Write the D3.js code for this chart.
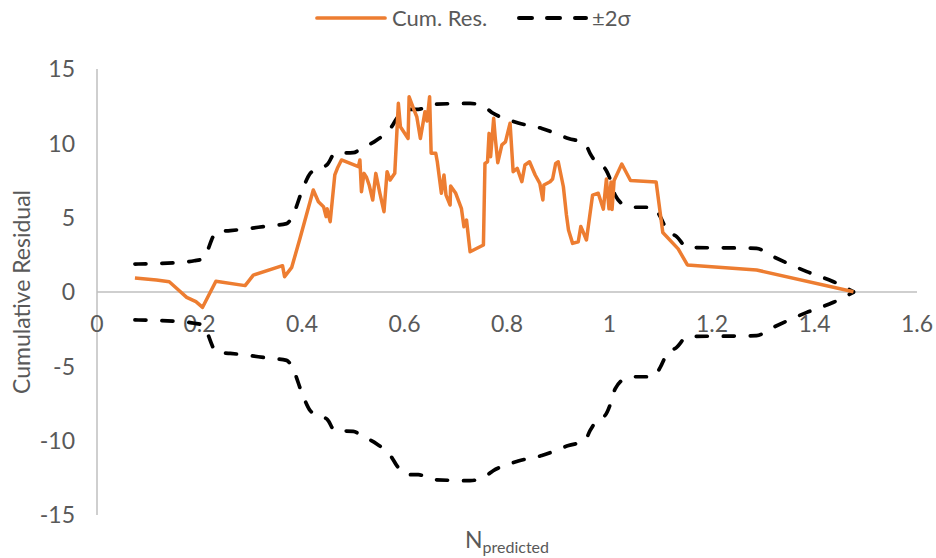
<!DOCTYPE html>
<html>
<head>
<meta charset="utf-8">
<script src="https://cdn.jsdelivr.net/npm/d3@7"></script>
<style>
  body { margin: 0; background: #fff; }
  svg text { font-family: Lato, "Open Sans", sans-serif; fill: #595959; }
</style>
</head>
<body>
<svg id="chart" width="936" height="558"></svg>
<script>
// Cumulative residual against predicted N
const cumX = [0.074,0.116,0.141,0.159,0.175,0.193,0.206,0.232,0.289,0.305,0.362,0.366,0.380,0.396,0.422,0.432,0.442,0.447,0.449,0.455,0.464,0.469,0.477,0.510,0.513,0.516,0.521,0.526,0.531,0.538,0.544,0.552,0.560,0.566,0.572,0.581,0.588,0.592,0.607,0.609,0.618,0.624,0.631,0.640,0.644,0.649,0.652,0.661,0.664,0.672,0.677,0.681,0.689,0.690,0.700,0.711,0.716,0.721,0.728,0.754,0.757,0.762,0.765,0.768,0.774,0.777,0.782,0.790,0.797,0.806,0.812,0.820,0.829,0.835,0.844,0.855,0.864,0.870,0.872,0.884,0.889,0.895,0.900,0.910,0.916,0.920,0.928,0.939,0.944,0.949,0.955,0.967,0.978,0.988,0.994,0.999,1.003,1.005,1.009,1.024,1.041,1.091,1.104,1.134,1.152,1.287,1.476];
const cumY = [0.94,0.81,0.69,0.13,-0.36,-0.65,-1.03,0.72,0.43,1.14,1.77,1.03,1.66,3.6,6.86,6.07,5.74,5.07,5.6,4.73,7.87,8.32,8.88,8.43,8.88,6.75,7.98,7.7,7.2,6.19,7.98,6.64,5.40,8.09,7.53,7.98,12.69,11.12,10.33,13.13,12.3,11.79,10.33,12.13,11.5,13.13,9.33,9.33,8.76,6.64,7.87,6.52,5.85,7.13,6.64,5.63,4.39,4.84,2.71,3.16,8.65,8.76,10.67,9.10,11.68,10.4,8.7,9.9,10.1,11.35,8.09,8.32,7.42,8.54,8.76,7.87,7.31,6.19,7.20,7.42,7.6,8.65,8.76,7.08,5.18,4.17,3.27,3.38,4.41,4.0,3.50,6.52,6.64,5.57,7.6,5.6,7.4,5.55,7.5,8.61,7.5,7.4,4.0,2.9,1.82,1.48,0.02];

// Two-sigma envelope (upper bound; the lower bound is its mirror)
const sigX = [0.074,0.155,0.190,0.206,0.234,0.260,0.338,0.370,0.380,0.403,0.416,0.429,0.450,0.464,0.500,0.516,0.546,0.575,0.585,0.607,0.627,0.656,0.728,0.760,0.773,0.803,0.822,0.868,0.920,0.952,0.962,0.975,0.991,1.004,1.011,1.034,1.053,1.086,1.099,1.112,1.131,1.152,1.287,1.313,1.385,1.437,1.476];
const sigY = [1.88,1.97,2.1,2.22,4.06,4.13,4.46,4.6,5.0,7.08,7.98,8.25,8.6,9.33,9.37,9.66,10.22,11.12,11.68,12.29,12.29,12.62,12.69,12.35,12.02,11.59,11.37,11.0,10.33,10.0,9.33,8.65,8.32,7.31,6.52,5.78,5.70,5.70,5.07,4.17,3.72,3.0,2.94,2.49,1.37,0.69,0.02];

const xTicks = [0,0.2,0.4,0.6,0.8,1,1.2,1.4,1.6];
const yTicks = [-15,-10,-5,0,5,10,15];

const seriesNames = ["Cum. Res.", "\u00B12\u03C3"];
const orange = "#ED7D31";
const axisGray = "#BFBFBF";

const svg = d3.select("#chart");
const x = d3.scaleLinear().domain([0, 1.6]).range([97, 917]);
const y = d3.scaleLinear().domain([-15, 15]).range([515, 69]);

// Axis lines
svg.append("line").attr("x1", x(0)).attr("x2", x(1.6)).attr("y1", y(0)).attr("y2", y(0))
  .attr("stroke", axisGray).attr("stroke-width", 1.5);
svg.append("line").attr("x1", x(0)).attr("x2", x(0)).attr("y1", y(15)).attr("y2", y(-15))
  .attr("stroke", axisGray).attr("stroke-width", 1.5);

// Tick labels
svg.append("g").selectAll("text").data(xTicks).join("text")
  .attr("x", d => x(d)).attr("y", y(0) + 40)
  .attr("text-anchor", "middle").attr("font-size", 23)
  .text(d => d3.format("~g")(d));
svg.append("g").selectAll("text").data(yTicks).join("text")
  .attr("x", 75).attr("y", d => y(d)).attr("dy", "0.36em")
  .attr("text-anchor", "end").attr("font-size", 23)
  .text(d => d);

// Axis titles
svg.append("text")
  .attr("transform", `translate(30, ${y(0)}) rotate(-90)`)
  .attr("text-anchor", "middle").attr("font-size", 23)
  .text("Cumulative Residual");
const xt = svg.append("text").attr("x", (x(0) + x(1.6)) / 2).attr("y", 548)
  .attr("text-anchor", "middle").attr("font-size", 23);
xt.append("tspan").text("N");
xt.append("tspan").attr("font-size", 16).attr("dy", 5).text("predicted");

// Data lines
const cum = cumX.map((v, i) => [v, cumY[i]]);
const upper = sigX.map((v, i) => [v, sigY[i]]);
const lower = sigX.map((v, i) => [v, -sigY[i]]);

const sigLine = d3.line().x(d => x(d[0])).y(d => y(d[1])).curve(d3.curveMonotoneX);
const cumLine = d3.line().x(d => x(d[0])).y(d => y(d[1]));

[upper, lower].forEach(pts => {
  svg.append("path").attr("d", sigLine(pts))
    .attr("fill", "none").attr("stroke", "#000").attr("stroke-width", 3.7)
    .attr("stroke-dasharray", "11,16").attr("stroke-linecap", "round");
});
svg.append("path").attr("d", cumLine(cum))
  .attr("fill", "none").attr("stroke", orange).attr("stroke-width", 3.5)
  .attr("stroke-linejoin", "round");

// Legend
const lg = svg.append("g");
lg.append("line").attr("x1", 317).attr("x2", 385).attr("y1", 18).attr("y2", 18)
  .attr("stroke", orange).attr("stroke-width", 3.7).attr("stroke-linecap", "round");
lg.append("text").attr("x", 392).attr("y", 18).attr("dy", "0.36em").attr("font-size", 22)
  .text(seriesNames[0]);
lg.append("line").attr("x1", 519).attr("x2", 586).attr("y1", 18).attr("y2", 18)
  .attr("stroke", "#000").attr("stroke-width", 4)
  .attr("stroke-dasharray", "13,15").attr("stroke-linecap", "round");
lg.append("text").attr("x", 592).attr("y", 18).attr("dy", "0.36em").attr("font-size", 22)
  .text(seriesNames[1]);
</script>
</body>
</html>
